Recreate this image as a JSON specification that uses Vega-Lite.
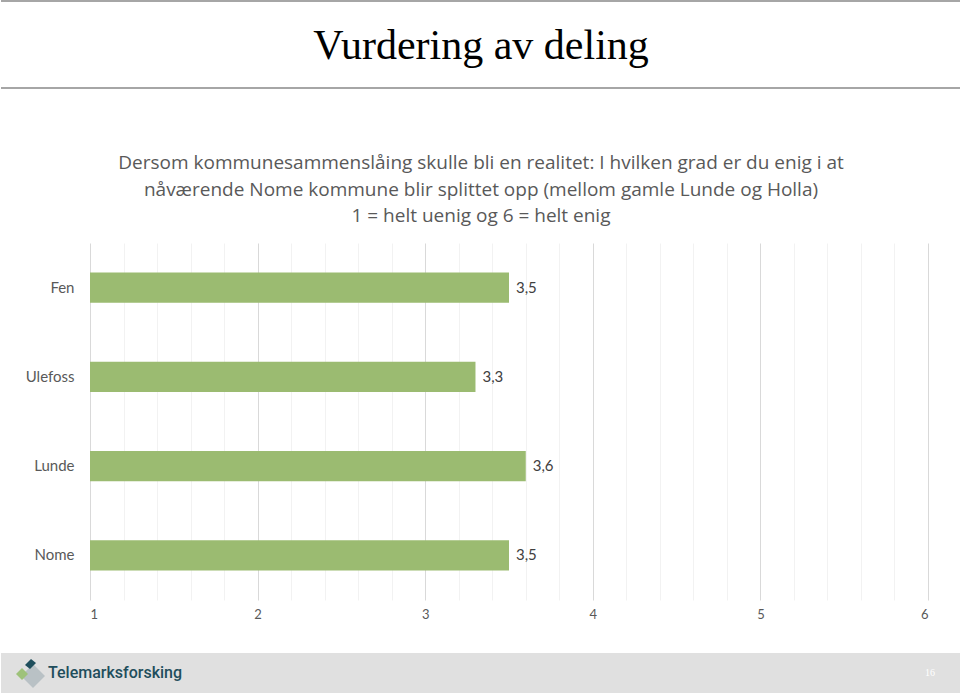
{
  "$schema": "https://vega.github.io/schema/vega-lite/v6.json",
  "background": "white",
  "padding": 0,
  "spacing": 32,
  "config": {
    "locale": {"number": {"decimal": ",", "thousands": " ", "grouping": [3], "currency": ["", " kr"]}},
    "view": {"stroke": null},
    "font": "Lato"
  },
  "vconcat": [
    {
      "width": 960,
      "height": 87,
      "view": {"stroke": "#a6a6a6", "strokeWidth": 2, "strokeDash": [960, 87, 960, 87]},
      "data": {"values": [{"tittel": "Vurdering av deling"}]},
      "mark": {"type": "text", "font": "Liberation Serif", "fontSize": 42, "color": "#000000", "baseline": "middle", "dy": 1},
      "encoding": {"text": {"field": "tittel"}}
    },
    {
      "width": 960,
      "height": 357,
      "title": {
        "text": " ",
        "fontSize": 19,
        "lineHeight": 19,
        "subtitle": ["Dersom kommunesammenslåing skulle bli en realitet: I hvilken grad er du enig i at", "nåværende Nome kommune blir splittet opp (mellom gamle Lunde og Holla)", "1 = helt uenig og 6 = helt enig"],
        "subtitlePadding": 13.5,
        "subtitleFont": "Open Sans",
        "subtitleFontSize": 19,
        "subtitleLineHeight": 26.5,
        "subtitleColor": "#595959",
        "anchor": "middle",
        "frame": "group",
        "offset": 17
      },
      "data": {"values": [
        {"omrade": "Fen", "verdi": 3.5},
        {"omrade": "Ulefoss", "verdi": 3.3},
        {"omrade": "Lunde", "verdi": 3.6},
        {"omrade": "Nome", "verdi": 3.5}
      ]},
      "encoding": {
        "y": {
          "field": "omrade",
          "type": "nominal",
          "sort": ["Fen", "Ulefoss", "Lunde", "Nome"],
          "scale": {"paddingInner": 0.663, "paddingOuter": 0.3315},
          "axis": {"title": null, "ticks": false, "domain": false, "offset": -89, "labelFontSize": 15, "labelColor": "#595959", "labelPadding": 16, "labelFont": "Lato"}
        },
        "x": {
          "field": "verdi",
          "type": "quantitative",
          "scale": {"domain": [1, 6], "nice": false, "zero": false, "range": [89, 927]},
          "axis": {
            "title": null,
            "values": [1, 1.2, 1.4, 1.6, 1.8, 2, 2.2, 2.4, 2.6, 2.8, 3, 3.2, 3.4, 3.6, 3.8, 4, 4.2, 4.4, 4.6, 4.8, 5, 5.2, 5.4, 5.6, 5.8, 6],
            "grid": true,
            "gridColor": {"condition": {"test": "abs(datum.value - round(datum.value)) < 0.001", "value": "#d9d9d9"}, "value": "#f2f2f2"},
            "gridWidth": 1,
            "ticks": false,
            "domain": false,
            "labelExpr": "abs(datum.value - round(datum.value)) < 0.001 ? '' + round(datum.value) : ''",
            "labelFontSize": 13,
            "labelColor": "#595959",
            "labelPadding": 8,
            "labelFont": "Lato"
          }
        }
      },
      "layer": [
        {
          "mark": {"type": "bar", "color": "#9bbb71"},
          "encoding": {"x2": {"datum": 1}}
        },
        {
          "mark": {"type": "text", "align": "left", "baseline": "middle", "dx": 7, "fontSize": 15, "color": "#404040", "font": "Lato"},
          "encoding": {"text": {"field": "verdi", "type": "quantitative", "format": ".1f"}}
        }
      ]
    },
    {
      "width": 960,
      "height": 40,
      "view": {"fill": "#e0e0e0", "stroke": null},
      "data": {"values": [
        {"slot": "logo", "tekst": "Telemarksforsking"},
        {"slot": "side", "tekst": "16"}
      ]},
      "encoding": {
        "x": {"field": "slot", "type": "nominal", "scale": {"type": "point", "domain": ["logo", "side"], "range": [47, 929], "padding": 0}, "axis": null}
      },
      "layer": [
        {
          "transform": [{"filter": "datum.slot === 'logo'"}],
          "mark": {"type": "point", "filled": true, "size": 4, "opacity": 1, "color": "#b9c1c5", "shape": "M -27 3 L -15 -9 L -3 3 L -15 15 Z"},
          "encoding": {}
        },
        {
          "transform": [{"filter": "datum.slot === 'logo'"}],
          "mark": {"type": "point", "filled": true, "size": 4, "opacity": 1, "color": "#9ec27a", "shape": "M -32 1 L -26 -5 L -20 1 L -26 7 Z"},
          "encoding": {}
        },
        {
          "transform": [{"filter": "datum.slot === 'logo'"}],
          "mark": {"type": "point", "filled": true, "size": 4, "opacity": 1, "color": "#1f4e5c", "shape": "M -23 -8 L -17 -14 L -12 -10 L -18 -4 Z"},
          "encoding": {}
        },
        {
          "transform": [{"filter": "datum.slot === 'logo'"}],
          "mark": {"type": "text", "align": "left", "baseline": "middle", "fontSize": 16, "fontWeight": 500, "color": "#1f4e5c", "font": "Roboto"},
          "encoding": {"text": {"field": "tekst"}}
        },
        {
          "transform": [{"filter": "datum.slot === 'side'"}],
          "mark": {"type": "text", "align": "center", "baseline": "middle", "fontSize": 10, "color": "#ffffff", "font": "Liberation Serif"},
          "encoding": {"text": {"field": "tekst"}}
        }
      ]
    }
  ]
}
